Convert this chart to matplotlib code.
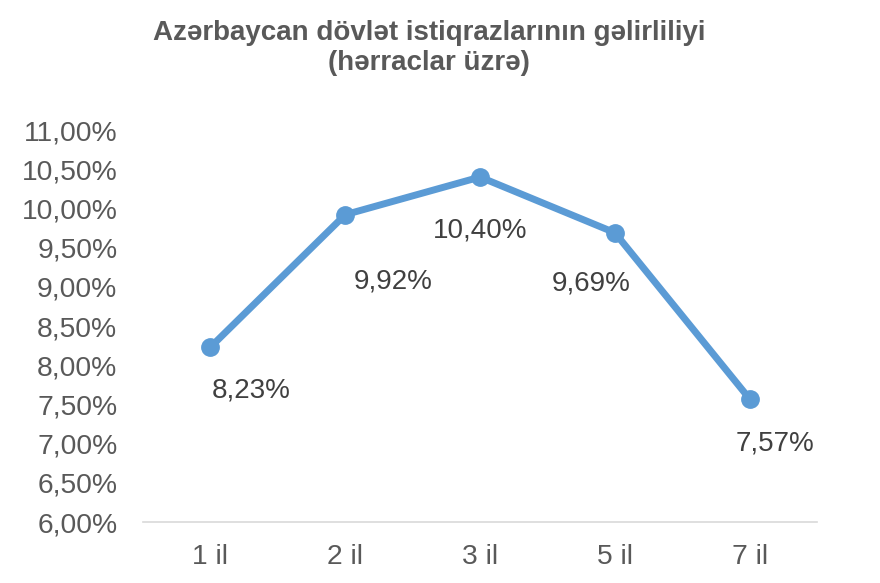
import matplotlib.pyplot as plt
from matplotlib.ticker import FuncFormatter

# Data
categories = ['1 il', '2 il', '3 il', '5 il', '7 il']
yields = [8.23, 9.92, 10.40, 9.69, 7.57]
y_ticks = [6.0, 6.5, 7.0, 7.5, 8.0, 8.5, 9.0, 9.5, 10.0, 10.5, 11.0]

# label offsets in pixels (dx, dy)
label_offsets = [(41, -43), (48, -67), (0, -53), (-24, -51), (25, -45)]

plt.rcParams['font.family'] = ['Liberation Sans', 'DejaVu Sans']


def pct(v, pos):
    return f'{v:.2f}'.replace('.', ',') + '%'


fig = plt.figure(figsize=(8.8, 5.83), dpi=100)
ax = fig.add_axes([0.1625, 0.1046, 0.766, 0.6724])

x = list(range(len(categories)))
ax.plot(x, yields, color='#5B9BD5', linewidth=5, marker='o',
        markersize=12.5, solid_capstyle='round', zorder=3)

for xi, v, (dx, dy) in zip(x, yields, label_offsets):
    ax.annotate(pct(v, None), (xi, v), xytext=(dx, dy), textcoords='offset pixels',
                ha='center', va='center', fontsize=20, color='#404040')

ax.set_xlim(-0.5, len(categories) - 0.5)
ax.set_ylim(6.0, 11.0)
ax.set_yticks(y_ticks)
ax.yaxis.set_major_formatter(FuncFormatter(pct))
ax.set_xticks(x)
ax.set_xticklabels(categories)
ax.tick_params(axis='both', length=0, labelsize=20.3, labelcolor='#595959')
ax.tick_params(axis='x', pad=16)
ax.tick_params(axis='y', pad=18.5)

for s in ['top', 'right', 'left']:
    ax.spines[s].set_visible(False)
ax.spines['bottom'].set_color('#D9D9D9')
ax.spines['bottom'].set_linewidth(1.2)

fig.text(0.4875, 0.943, 'Azərbaycan dövlət istiqrazlarının gəlirliliyi',
         ha='center', va='center', fontsize=20, fontweight='bold', color='#595959')
fig.text(0.4875, 0.892, '(hərraclar üzrə)',
         ha='center', va='center', fontsize=20, fontweight='bold', color='#595959')

plt.savefig('out.png', dpi=100)
